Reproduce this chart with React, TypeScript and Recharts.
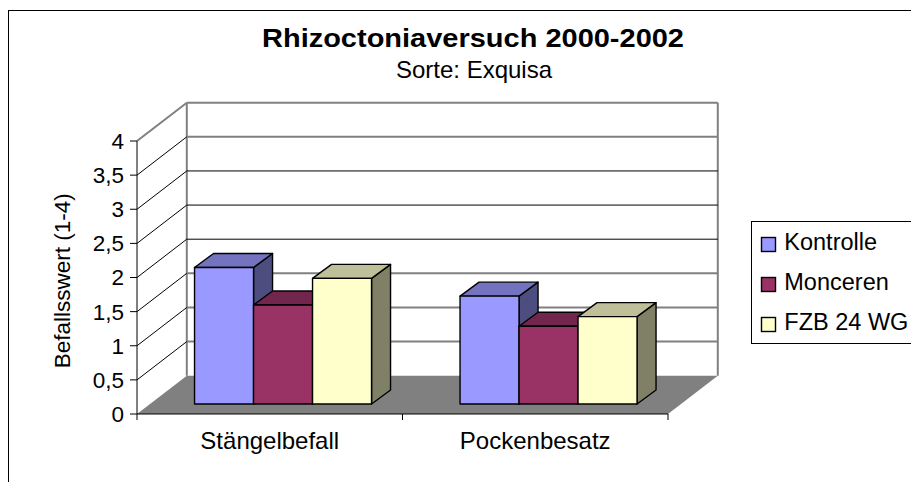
import React from 'react';
import { BarChart, Bar, XAxis, YAxis, CartesianGrid, Legend } from 'recharts';

// ---------- data ----------
const categories = ['Stängelbefall', 'Pockenbesatz'];
const kontrolle = [2.0, 1.58];
const monceren = [1.45, 1.14];
const fzb = [1.84, 1.28];
const seriesKeys = ['kontrolle', 'monceren', 'fzb'];
const seriesNames = ['Kontrolle', 'Monceren', 'FZB 24 WG'];
const yTicks = [0, 0.5, 1, 1.5, 2, 2.5, 3, 3.5, 4];

const data = categories.map((name, i) => ({
  name,
  kontrolle: kontrolle[i],
  monceren: monceren[i],
  fzb: fzb[i],
}));

// ---------- styles ----------
const COLORS = ['#9999FF', '#993366', '#FFFFCC'];
const FONT = '"Liberation Sans", Arial, Helvetica, sans-serif';
const GRAY = '#808080';

// 3D geometry (oblique projection offsets)
const WALL_DX = 49.8;
const WALL_DY = -38.3;
const BAR_SHIFT_X = 14;
const BAR_SHIFT_Y = -10;
const BAR_DX = 19;
const BAR_DY = -14;

function shade(hex: string, f: number): string {
  const h = hex.replace('#', '');
  const r = Math.round(parseInt(h.slice(0, 2), 16) * f);
  const g = Math.round(parseInt(h.slice(2, 4), 16) * f);
  const b = Math.round(parseInt(h.slice(4, 6), 16) * f);
  return `rgb(${r},${g},${b})`;
}

const Box3D = (props: any) => {
  const { x, y, width, height, fill } = props;
  if (x == null || y == null || !width || height == null) return null;
  const fx = x + BAR_SHIFT_X;
  const fy = y + BAR_SHIFT_Y;
  const top = `${fx},${fy} ${fx + width},${fy} ${fx + width + BAR_DX},${fy + BAR_DY} ${fx + BAR_DX},${fy + BAR_DY}`;
  const side = `${fx + width},${fy} ${fx + width + BAR_DX},${fy + BAR_DY} ${fx + width + BAR_DX},${fy + height + BAR_DY} ${fx + width},${fy + height}`;
  return (
    <g stroke="#000" strokeWidth={1.4} strokeLinejoin="round">
      <polygon points={side} fill={shade(fill, 0.5)} />
      <polygon points={top} fill={shade(fill, 0.75)} />
      <rect x={fx} y={fy} width={width} height={height} fill={fill} />
    </g>
  );
};

const gridLine = (p: any) => {
  const { x1, y1, x2, index } = p;
  const gx = p.x ?? x1;
  const gw = p.width ?? x2 - x1;
  const gy = p.y ?? 141;
  const gh = p.height ?? 273;
  const bottom = gy + gh;
  const value = Math.round(((bottom - y1) / gh) * 4 * 2) / 2;
  const grayLine = value >= 3.5 || value <= 1.5;
  const els: any[] = [];
  if (index === 0) {
    els.push(
      <polygon
        key="floor"
        points={`${gx},${bottom} ${gx + gw},${bottom} ${gx + gw + WALL_DX},${bottom + WALL_DY} ${gx + WALL_DX},${bottom + WALL_DY}`}
        fill={GRAY}
        stroke="none"
      />
    );
    els.push(
      <line key="wl" x1={gx + WALL_DX} y1={gy + WALL_DY} x2={gx + WALL_DX} y2={bottom + WALL_DY} stroke={GRAY} strokeWidth={2} />
    );
    els.push(
      <line key="wr" x1={gx + gw + WALL_DX} y1={gy + WALL_DY} x2={gx + gw + WALL_DX} y2={bottom + WALL_DY} stroke={GRAY} strokeWidth={2} />
    );
  }
  if (value > 0) {
    els.push(
      <line
        key="back"
        x1={x1 + WALL_DX}
        y1={y1 + WALL_DY}
        x2={x2 + WALL_DX}
        y2={y1 + WALL_DY}
        stroke={grayLine ? GRAY : '#000'}
        strokeWidth={grayLine ? 2 : 1}
      />
    );
    els.push(
      <line
        key="diag"
        x1={x1}
        y1={y1}
        x2={x1 + WALL_DX}
        y2={y1 + WALL_DY}
        stroke={value >= 4 ? GRAY : '#000'}
        strokeWidth={value >= 4 ? 2 : 1}
      />
    );
  }
  return <g key={`gl-${index}`}>{els}</g>;
};

const XTick = (p: any) => {
  const { x, y, payload, index, visibleTicksCount } = p;
  const off = payload && payload.offset ? payload.offset : 132.75;
  const axisY = y - 6;
  const last = index === (visibleTicksCount ?? categories.length) - 1;
  return (
    <g>
      <line x1={x - off} x2={x - off} y1={axisY} y2={axisY + 6} stroke="#000" strokeWidth={1} />
      {last && <line x1={x + off} x2={x + off} y1={axisY} y2={axisY + 6} stroke="#000" strokeWidth={1} />}
      <text x={x} y={axisY + 35.3} textAnchor="middle" fontFamily={FONT} fontSize={24} fill="#000">
        {payload.value}
      </text>
    </g>
  );
};

const LegendBox = () => (
  <svg width={200} height={124} style={{ display: 'block' }}>
    <rect x={0.5} y={0.5} width={240} height={122} fill="#fff" stroke="#000" strokeWidth={1} />
    {seriesNames.map((n, i) => (
      <g key={n}>
        <rect x={10.5} y={16.5 + i * 40} width={14} height={14} fill={COLORS[i]} stroke="#000" strokeWidth={1.4} />
        <text x={33.3} y={29 + i * 40} fontFamily={FONT} fontSize={23.5} fill="#000">
          {n}
        </text>
      </g>
    ))}
  </svg>
);

export default function App() {
  return (
    <div
      style={{
        position: 'fixed',
        left: 0,
        top: 0,
        width: 911,
        height: 482,
        overflow: 'hidden',
        background: '#fff',
      }}
    >
      <div
        style={{
          position: 'absolute',
          left: 8,
          top: 10,
          width: 1200,
          height: 1200,
          borderLeft: '1px solid #000',
          borderTop: '1px solid #000',
        }}
      />
      <div style={{ position: 'absolute', left: 0, top: 0 }}>
        <BarChart
          width={911}
          height={482}
          data={data}
          margin={{ top: 141, right: 243, bottom: 38, left: 77 }}
          barCategoryGap="16.4%"
          barGap={0}
        >
          <CartesianGrid horizontal={gridLine} vertical={false} />
          <XAxis
            dataKey="name"
            height={30}
            interval={0}
            padding={{ left: 0, right: 0 }}
            axisLine={{ stroke: '#000', strokeWidth: 1 }}
            tickLine={false}
            tickSize={6}
            tickMargin={0}
            tick={<XTick />}
          />
          <YAxis
            type="number"
            domain={[0, 4]}
            ticks={yTicks}
            interval={0}
            width={60}
            tickSize={7}
            tickMargin={6}
            axisLine={{ stroke: '#000', strokeWidth: 1 }}
            tickLine={{ stroke: '#000', strokeWidth: 1 }}
            tick={{ fill: '#000', fontSize: 22.5, fontFamily: FONT }}
            tickFormatter={(v: number) => String(v).replace('.', ',')}
          />
          {seriesKeys.map((k, i) => (
            <Bar
              key={k}
              dataKey={k}
              name={seriesNames[i]}
              fill={COLORS[i]}
              shape={Box3D}
              isAnimationActive={false}
            />
          ))}
          <Legend
            layout="vertical"
            align="center"
            verticalAlign="middle"
            wrapperStyle={{ left: 751, top: 221, width: 200, height: 124 }}
            content={() => <LegendBox />}
          />
        </BarChart>
      </div>
      <svg
        width={911}
        height={482}
        style={{ position: 'absolute', left: 0, top: 0, pointerEvents: 'none' }}
      >
        <text
          x={473}
          y={46.7}
          textAnchor="middle"
          fontFamily={FONT}
          fontWeight="bold"
          fontSize={26}
          textLength={422}
          lengthAdjust="spacingAndGlyphs"
          fill="#000"
        >
          Rhizoctoniaversuch 2000-2002
        </text>
        <text x={474} y={77.7} textAnchor="middle" fontFamily={FONT} fontSize={24} fill="#000">
          Sorte: Exquisa
        </text>
        <text
          transform="rotate(-90)"
          x={-280.8}
          y={70}
          textAnchor="middle"
          fontFamily={FONT}
          fontSize={22.5}
          fill="#000"
        >
          Befallsswert (1-4)
        </text>
      </svg>
    </div>
  );
}
